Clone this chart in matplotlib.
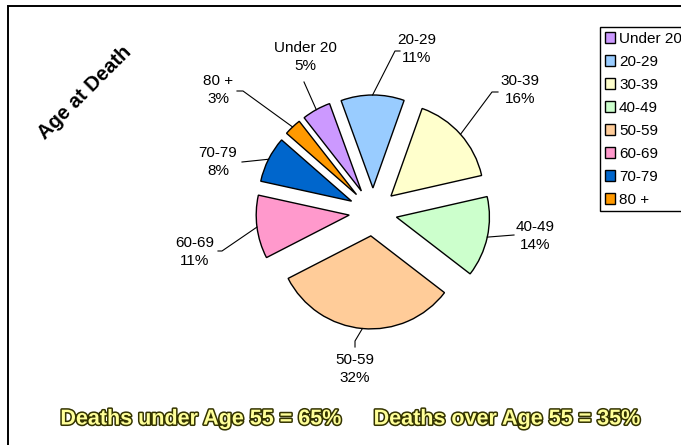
import numpy as np
import matplotlib
matplotlib.use("Agg")
import matplotlib.pyplot as plt
import matplotlib.patches as mpatches
import matplotlib.patheffects as pe

# data
age_groups = ["Under 20", "20-29", "30-39", "40-49", "50-59", "60-69", "70-79", "80 +"]
percent = [5, 11, 16, 14, 32, 11, 8, 3]
colors = ["#CC99FF", "#99CCFF", "#FFFFCC", "#CCFFCC", "#FFCC99", "#FF99CC", "#0066CC", "#FF9900"]
summary = ["Deaths under Age 55 = 65%", "Deaths over Age 55 = 35%"]

W, H = 681, 445
plt.rcParams['font.family'] = ['Liberation Sans', 'DejaVu Sans']

fig = plt.figure(figsize=(W / 100, H / 100), dpi=100)
ax = fig.add_axes([0, 0, 1, 1])

def P(x, y):
    # pixel position (y from top) -> data coords
    return (x, H - y)

cx, cy = P(373, 212)
R = 93
wedges, _ = ax.pie(percent, colors=colors, startangle=128, counterclock=False,
                   explode=[24] * len(percent), radius=R, center=(cx, cy),
                   wedgeprops=dict(edgecolor="black", linewidth=1.0))
ax.set_xlim(0, W)
ax.set_ylim(0, H)
ax.set_aspect("equal")
ax.axis("off")

# label layout: text centre and the elbow where the leader line starts
label_pos = [(305, 57), (417, 49), (520, 90), (535, 236),
             (355, 369), (195, 252), (218, 162), (218, 90)]
elbows = [[(304, 82)], [(400, 51), (395, 51)], [(498, 92), (492, 92)], [(514, 235)],
          [(355, 347), (355, 341)], [(218, 251), (222, 251)], [(242, 162)], [(237, 91), (243, 91)]]

for w, name, pct, pos, elb in zip(wedges, age_groups, percent, label_pos, elbows):
    mid = np.deg2rad((w.theta1 + w.theta2) / 2)
    ax_pt = (w.center[0] + w.r * np.cos(mid), w.center[1] + w.r * np.sin(mid))
    pts = [P(*e) for e in elb] + [ax_pt]
    ax.plot([p[0] for p in pts], [p[1] for p in pts], color="black", lw=0.8)
    ax.text(*P(*pos), f"{name}\n{pct}%", ha="center", va="center",
            fontsize=11, linespacing=1.3)

ax.text(*P(85, 93), "Age at Death", rotation=45, ha="center", va="center",
        fontsize=14.5, fontweight="bold")

leg = ax.legend(wedges, age_groups, loc="upper left",
                bbox_to_anchor=(600 / W, 1 - 27 / H), fontsize=11,
                frameon=True, fancybox=False, edgecolor="black", framealpha=1,
                handlelength=0.7, handleheight=0.7, handletextpad=0.25,
                borderpad=0.3, labelspacing=0.59, borderaxespad=0)
leg.get_frame().set_linewidth(1.0)

for txt, x in zip(summary, [201, 507]):
    ax.text(*P(x, 419), txt, ha="center", va="center", fontsize=15.5,
            fontweight="bold", color="#FFFF99",
            path_effects=[pe.withStroke(linewidth=2.2, foreground="#333300")])

frame = mpatches.Rectangle(P(8, H + 10), W, H + 4, fill=False, lw=1.4,
                           edgecolor="black", clip_on=False)
ax.add_patch(frame)

fig.savefig("out.png", dpi=100)
